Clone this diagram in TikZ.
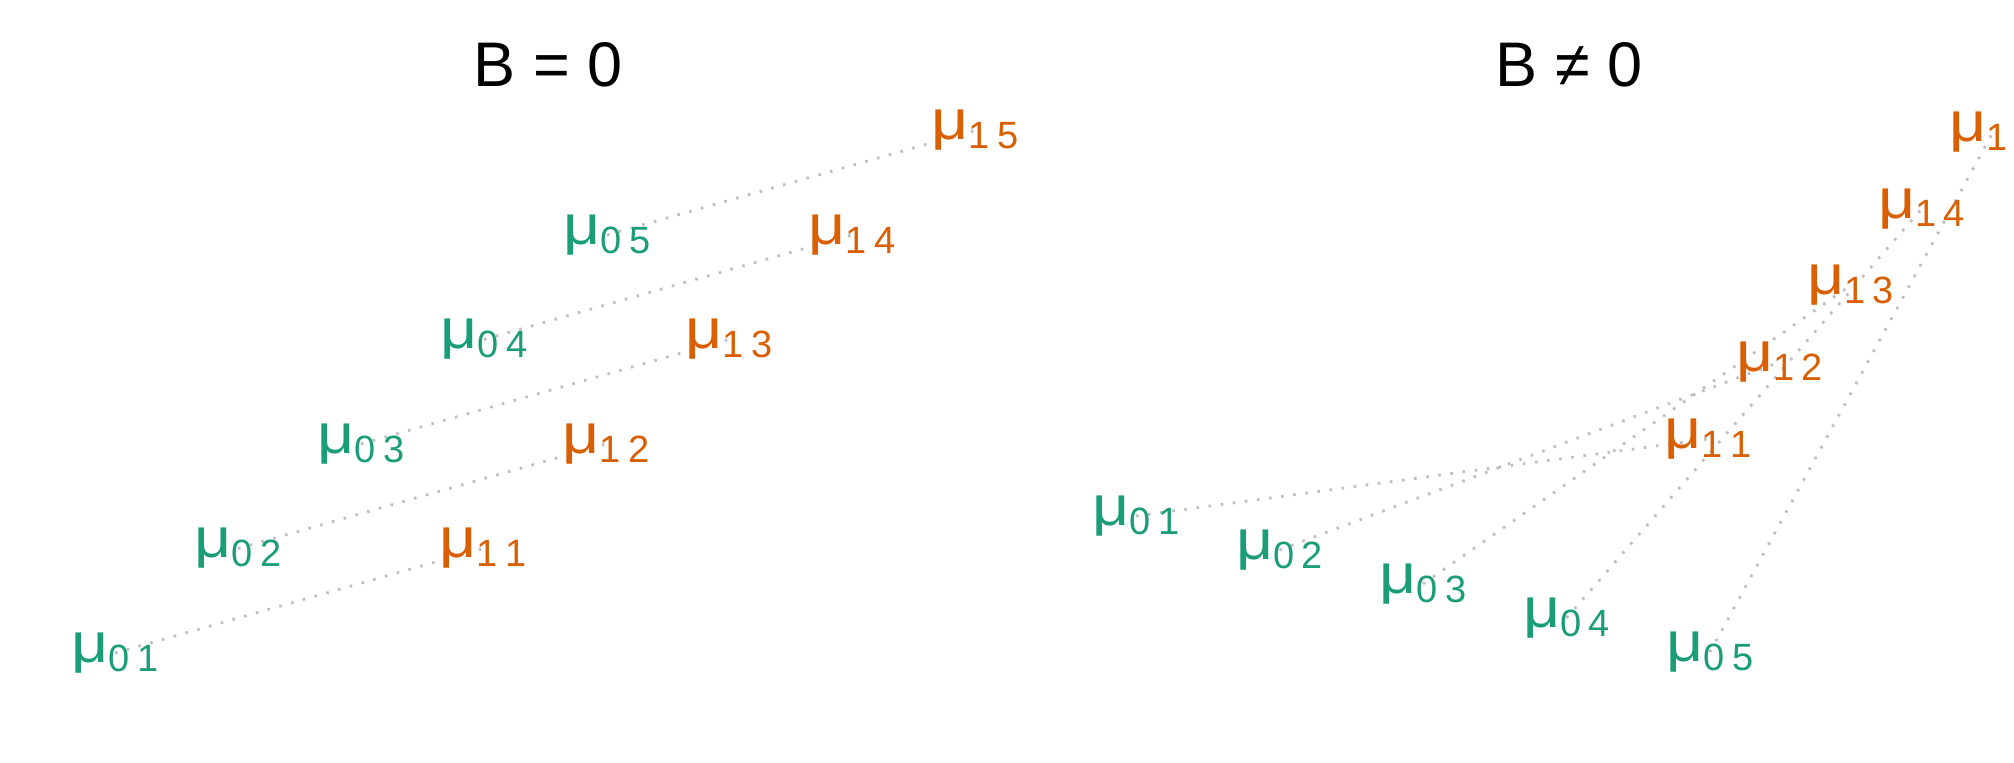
\documentclass[tikz,border=0pt]{standalone}
\usepackage{fontspec}
\setmainfont{Liberation Sans}
\usepackage{graphicx}
\definecolor{grn}{HTML}{1B9E77}
\definecolor{org}{HTML}{D95F02}
\definecolor{lgrey}{HTML}{BEBEBE}
\pgfdeclarelayer{bg}
\pgfsetlayers{bg,main}
\newcommand{\mulab}[2]{{\fontsize{28}{28}\selectfont\scalebox{1.15}[1]{μ}}\raisebox{-4.4pt}{\fontsize{19}{19}\selectfont #1\hspace{3.5pt}#2}}
\begin{document}
\begin{tikzpicture}[x=0.5pt,y=-0.5pt,
  lab/.style={inner sep=0pt, anchor=center},
  g/.style={lab, text=grn},
  o/.style={lab, text=org},
  conn/.style={draw=lgrey, line width=1.4pt, dash pattern=on 1.3pt off 4.8pt},
  ttl/.style={inner sep=0pt, anchor=base, font=\fontsize{31.5}{31.5}\selectfont}]
\useasboundingbox (0,0) rectangle (2014,763);
\clip (0,0) rectangle (2014,763);

% titles
\node[ttl] (t0) at (548,87) {B = 0};
\node[ttl] (t1) at (1569,87) {B ≠ 0};

% B = 0 panel
\node[g] (g1) at (115,653)   {\mulab{0}{1}};
\node[g] (g2) at (238,548.5) {\mulab{0}{2}};
\node[g] (g3) at (361,444)   {\mulab{0}{3}};
\node[g] (g4) at (484,339.5) {\mulab{0}{4}};
\node[g] (g5) at (607,235)   {\mulab{0}{5}};
\node[o] (o1) at (483,548.5) {\mulab{1}{1}};
\node[o] (o2) at (606,444)   {\mulab{1}{2}};
\node[o] (o3) at (729,339.5) {\mulab{1}{3}};
\node[o] (o4) at (852,235)   {\mulab{1}{4}};
\node[o] (o5) at (975,130.5) {\mulab{1}{5}};

% B != 0 panel
\node[g] (h1) at (1136,516)   {\mulab{0}{1}};
\node[g] (h2) at (1279.5,550) {\mulab{0}{2}};
\node[g] (h3) at (1423,584)   {\mulab{0}{3}};
\node[g] (h4) at (1566.5,618) {\mulab{0}{4}};
\node[g] (h5) at (1710,652)   {\mulab{0}{5}};
\node[o] (p1) at (1708,439)     {\mulab{1}{1}};
\node[o] (p2) at (1779.25,362.25) {\mulab{1}{2}};
\node[o] (p3) at (1850.5,285.5) {\mulab{1}{3}};
\node[o] (p4) at (1921.75,208.75) {\mulab{1}{4}};
\node[o] (p5) at (1993,132)     {\mulab{1}{5}};

\begin{pgfonlayer}{bg}
\foreach \j in {1,...,5} {
  \draw[conn] (g\j.center) -- (o\j.center);
  \draw[conn] (h\j.center) -- (p\j.center);
}
\end{pgfonlayer}
\end{tikzpicture}
\end{document}
